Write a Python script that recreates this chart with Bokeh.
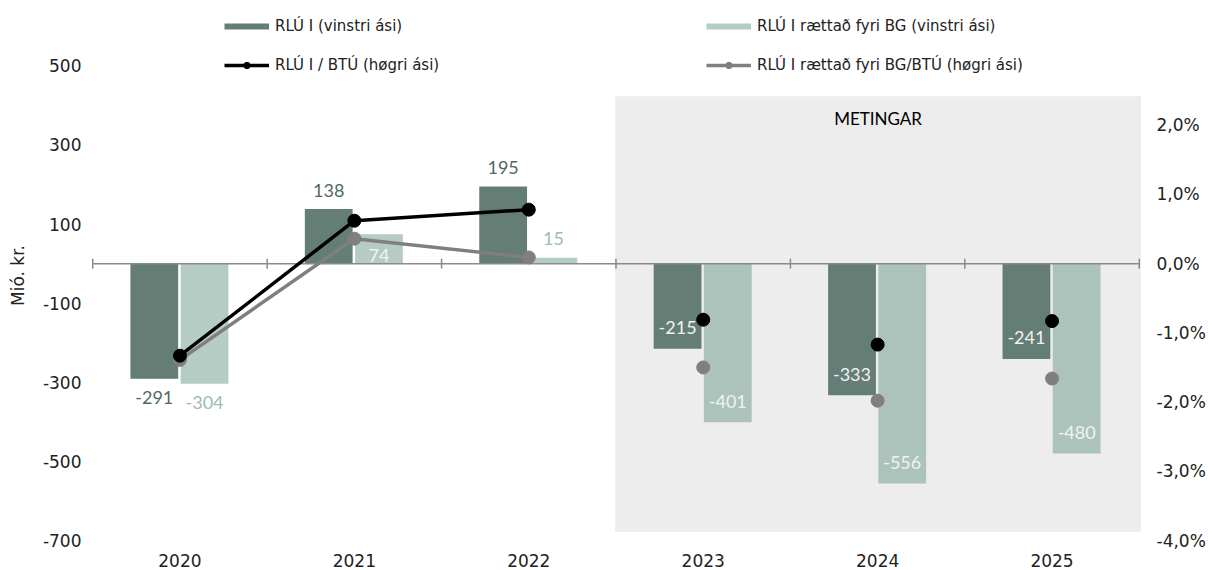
import numpy as np
from bokeh.plotting import figure
from bokeh.models import Range1d, LinearAxis, FixedTicker, Legend, LegendItem, ColumnDataSource
from bokeh.core.properties import value
from bokeh.embed import file_html
from bokeh.resources import INLINE

# ---------------- data ----------------
YEARS = ["2020", "2021", "2022", "2023", "2024", "2025"]
RLU = [-291, 138, 195, -215, -333, -241]            # RLÚ I (vinstri ási), mió. kr.
RLU_BG = [-304, 74, 15, -401, -556, -480]           # RLÚ I rættað fyri BG (vinstri ási)
RLU_BTU = [-1.33, 0.62, 0.78, -0.81, -1.17, -0.83]  # RLÚ I / BTÚ, % (høgri ási)
RLU_BG_BTU = [-1.39, 0.36, 0.09, -1.50, -1.98, -1.66]  # RLÚ I rættað fyri BG/BTÚ, %
N_ACTUAL = 3                                         # years joined by lines (2020-2022)
FORECAST_FROM = "2023"                               # METINGAR (estimates)
LEFT_TICKS = [-700, -500, -300, -100, 100, 300, 500]
RIGHT_TICKS = [-4, -3, -2, -1, 0, 1, 2]
RIGHT_TICK_LABELS = ["-4,0%", "-3,0%", "-2,0%", "-1,0%", "0,0%", "1,0%", "2,0%"]
RLU_LABEL_POS = ["out", "out", "out", "in", "in", "in"]
RLU_BG_LABEL_POS = ["out", "in", "out", "in", "in", "in"]

# ---------------- styling / layout ----------------
DARK = "#647D75"
LIGHT = "#6B998B"
LIGHT_ALPHA = 0.5
DARK_TXT = "#4F6A62"
LIGHT_TXT = "#9BBDB3"
IN_TXT = "#F2F2F2"
AXIS_GREY = "#8A8A8A"
SHADE = "#EDEDED"
TXT = "#222222"

X_START, X_END = -0.53, 5.53
Y_START, Y_END = -700, 640
PCT_RATIO = 175.0
FRAME_W, FRAME_H = 1057, 530
PX = FRAME_H / (Y_END - Y_START)   # px per left-axis unit
OUT_PX, IN_PX = 19, 21
BAR_W = 0.274
DARK_OFF, LIGHT_OFF = -0.147, 0.141

CENTERS = np.arange(len(YEARS))
BOUNDS = np.arange(len(YEARS) + 1) - 0.5
f0 = YEARS.index(FORECAST_FROM)
SHADE_LEFT = BOUNDS[f0] - 0.005
SHADE_RIGHT = BOUNDS[-1] + 0.01
SHADE_TOP = 423
SHADE_BOTTOM = -678

p = figure(frame_width=FRAME_W, frame_height=FRAME_H,
           x_range=Range1d(X_START, X_END), y_range=Range1d(Y_START, Y_END),
           output_backend="svg", toolbar_location=None,
           min_border_left=87, min_border_right=62, min_border_top=10, min_border_bottom=29,
           background_fill_color="white", border_fill_color="white")
p.outline_line_color = None
p.xgrid.grid_line_color = None
p.ygrid.grid_line_color = None
p.extra_y_ranges = {"pct": Range1d(Y_START / PCT_RATIO, Y_END / PCT_RATIO)}

# shaded forecast region
p.quad(left=[SHADE_LEFT], right=[SHADE_RIGHT], top=[SHADE_TOP], bottom=[SHADE_BOTTOM],
       fill_color=SHADE, line_color=None)
p.text(x=[(SHADE_LEFT + SHADE_RIGHT) / 2], y=[SHADE_TOP - 22 / PX], text=["METINGAR"],
       text_align="center", text_baseline="middle", text_font=value("Lato"),
       text_font_size="17px", text_color="#000000")

# bars
dark_bars = p.vbar(x=CENTERS + DARK_OFF, top=RLU, bottom=0, width=BAR_W,
                   fill_color=DARK, line_color=None)
light_bars = p.vbar(x=CENTERS + LIGHT_OFF, top=RLU_BG, bottom=0, width=BAR_W,
                    fill_color=LIGHT, fill_alpha=LIGHT_ALPHA, line_color=None)

# category axis at zero
p.segment(x0=[BOUNDS[0]], y0=[0], x1=[BOUNDS[-1]], y1=[0], line_color=AXIS_GREY, line_width=1.5)
p.scatter(x=BOUNDS, y=np.zeros(len(BOUNDS)), marker="dash", angle=np.pi / 2, size=10,
          line_color=AXIS_GREY, line_width=1.5)

# bar labels
def label_y(v, pos):
    s = 1 if v >= 0 else -1
    return v + s * OUT_PX / PX if pos == "out" else v - s * IN_PX / PX

lx, ly, lt, lc = [], [], [], []
for i, (v, pos) in enumerate(zip(RLU, RLU_LABEL_POS)):
    lx.append(CENTERS[i] + DARK_OFF); ly.append(label_y(v, pos)); lt.append(str(v))
    lc.append(DARK_TXT if pos == "out" else IN_TXT)
for i, (v, pos) in enumerate(zip(RLU_BG, RLU_BG_LABEL_POS)):
    lx.append(CENTERS[i] + LIGHT_OFF); ly.append(label_y(v, pos)); lt.append(str(v))
    lc.append(LIGHT_TXT if pos == "out" else IN_TXT)
p.text(x="x", y="y", text="t", text_color="c",
       source=ColumnDataSource(dict(x=lx, y=ly, t=lt, c=lc)),
       text_align="center", text_baseline="middle", text_font=value("Lato"),
       text_font_size="18px")

# lines (right axis)
grey_line = p.line(x=CENTERS[:N_ACTUAL], y=RLU_BG_BTU[:N_ACTUAL], y_range_name="pct",
                   line_color="#7F7F7F", line_width=3.5)
black_line = p.line(x=CENTERS[:N_ACTUAL], y=RLU_BTU[:N_ACTUAL], y_range_name="pct",
                    line_color="#000000", line_width=3.5)
grey_pts = p.scatter(x=CENTERS, y=RLU_BG_BTU, y_range_name="pct", size=13,
                     fill_color="#7F7F7F", line_color="#7F7F7F")
black_pts = p.scatter(x=CENTERS, y=RLU_BTU, y_range_name="pct", size=13,
                      fill_color="#000000", line_color="#000000")

# legend proxies for bar swatches (no visible data)
dark_proxy = p.line(x=[np.nan], y=[np.nan], line_color=DARK, line_width=6)
light_proxy = p.line(x=[np.nan], y=[np.nan], line_color=LIGHT, line_alpha=LIGHT_ALPHA, line_width=6)

def make_legend(items, vx):
    return Legend(items=items, location=(vx, 465), orientation="vertical", padding=0,
                  spacing=19, glyph_width=45, glyph_height=16, label_height=20,
                  label_standoff=6, label_text_font="DejaVu Sans", label_text_font_size="15px",
                  label_text_color=TXT, border_line_color=None, background_fill_alpha=0,
                  margin=0)

leg1 = make_legend([LegendItem(label="RLÚ I (vinstri ási)", renderers=[dark_proxy]),
                    LegendItem(label="RLÚ I / BTÚ (høgri ási)", renderers=[black_line, black_pts])], 137)
leg2 = make_legend([LegendItem(label="RLÚ I rættað fyri BG (vinstri ási)", renderers=[light_proxy]),
                    LegendItem(label="RLÚ I rættað fyri BG/BTÚ (høgri ási)", renderers=[grey_line, grey_pts])], 619)
p.add_layout(leg1, "center")
p.add_layout(leg2, "center")

# axes
for ax in [p.yaxis[0], p.xaxis[0]]:
    ax.axis_line_color = None
    ax.major_tick_line_color = None
    ax.minor_tick_line_color = None
    ax.major_tick_out = 0
    ax.major_tick_in = 0
    ax.minor_tick_out = 0
    ax.major_label_text_font = "DejaVu Sans"
    ax.major_label_text_font_size = "17px"
    ax.major_label_text_color = TXT

p.yaxis[0].ticker = FixedTicker(ticks=LEFT_TICKS)
p.yaxis[0].major_label_overrides = {t: str(t) for t in LEFT_TICKS}
p.yaxis[0].major_label_standoff = 6
p.yaxis[0].axis_label = "Mió. kr."
p.yaxis[0].axis_label_text_font = "DejaVu Sans"
p.yaxis[0].axis_label_text_font_size = "17px"
p.yaxis[0].axis_label_text_font_style = "normal"
p.yaxis[0].axis_label_text_color = TXT
p.yaxis[0].axis_label_standoff = 12

p.xaxis[0].ticker = FixedTicker(ticks=list(CENTERS))
p.xaxis[0].major_label_overrides = {int(c): y for c, y in zip(CENTERS, YEARS)}
p.xaxis[0].major_label_standoff = 13

right = LinearAxis(y_range_name="pct", ticker=FixedTicker(ticks=RIGHT_TICKS),
                   major_label_overrides=dict(zip(RIGHT_TICKS, RIGHT_TICK_LABELS)),
                   axis_line_color=None, major_tick_line_color=None, minor_tick_line_color=None,
                   major_tick_out=0, major_tick_in=0, minor_tick_out=0,
                   major_label_text_font="DejaVu Sans", major_label_text_font_size="17px",
                   major_label_text_color=TXT, major_label_standoff=12)
p.add_layout(right, "right")

open("out.html", "w").write(file_html(p, INLINE))
